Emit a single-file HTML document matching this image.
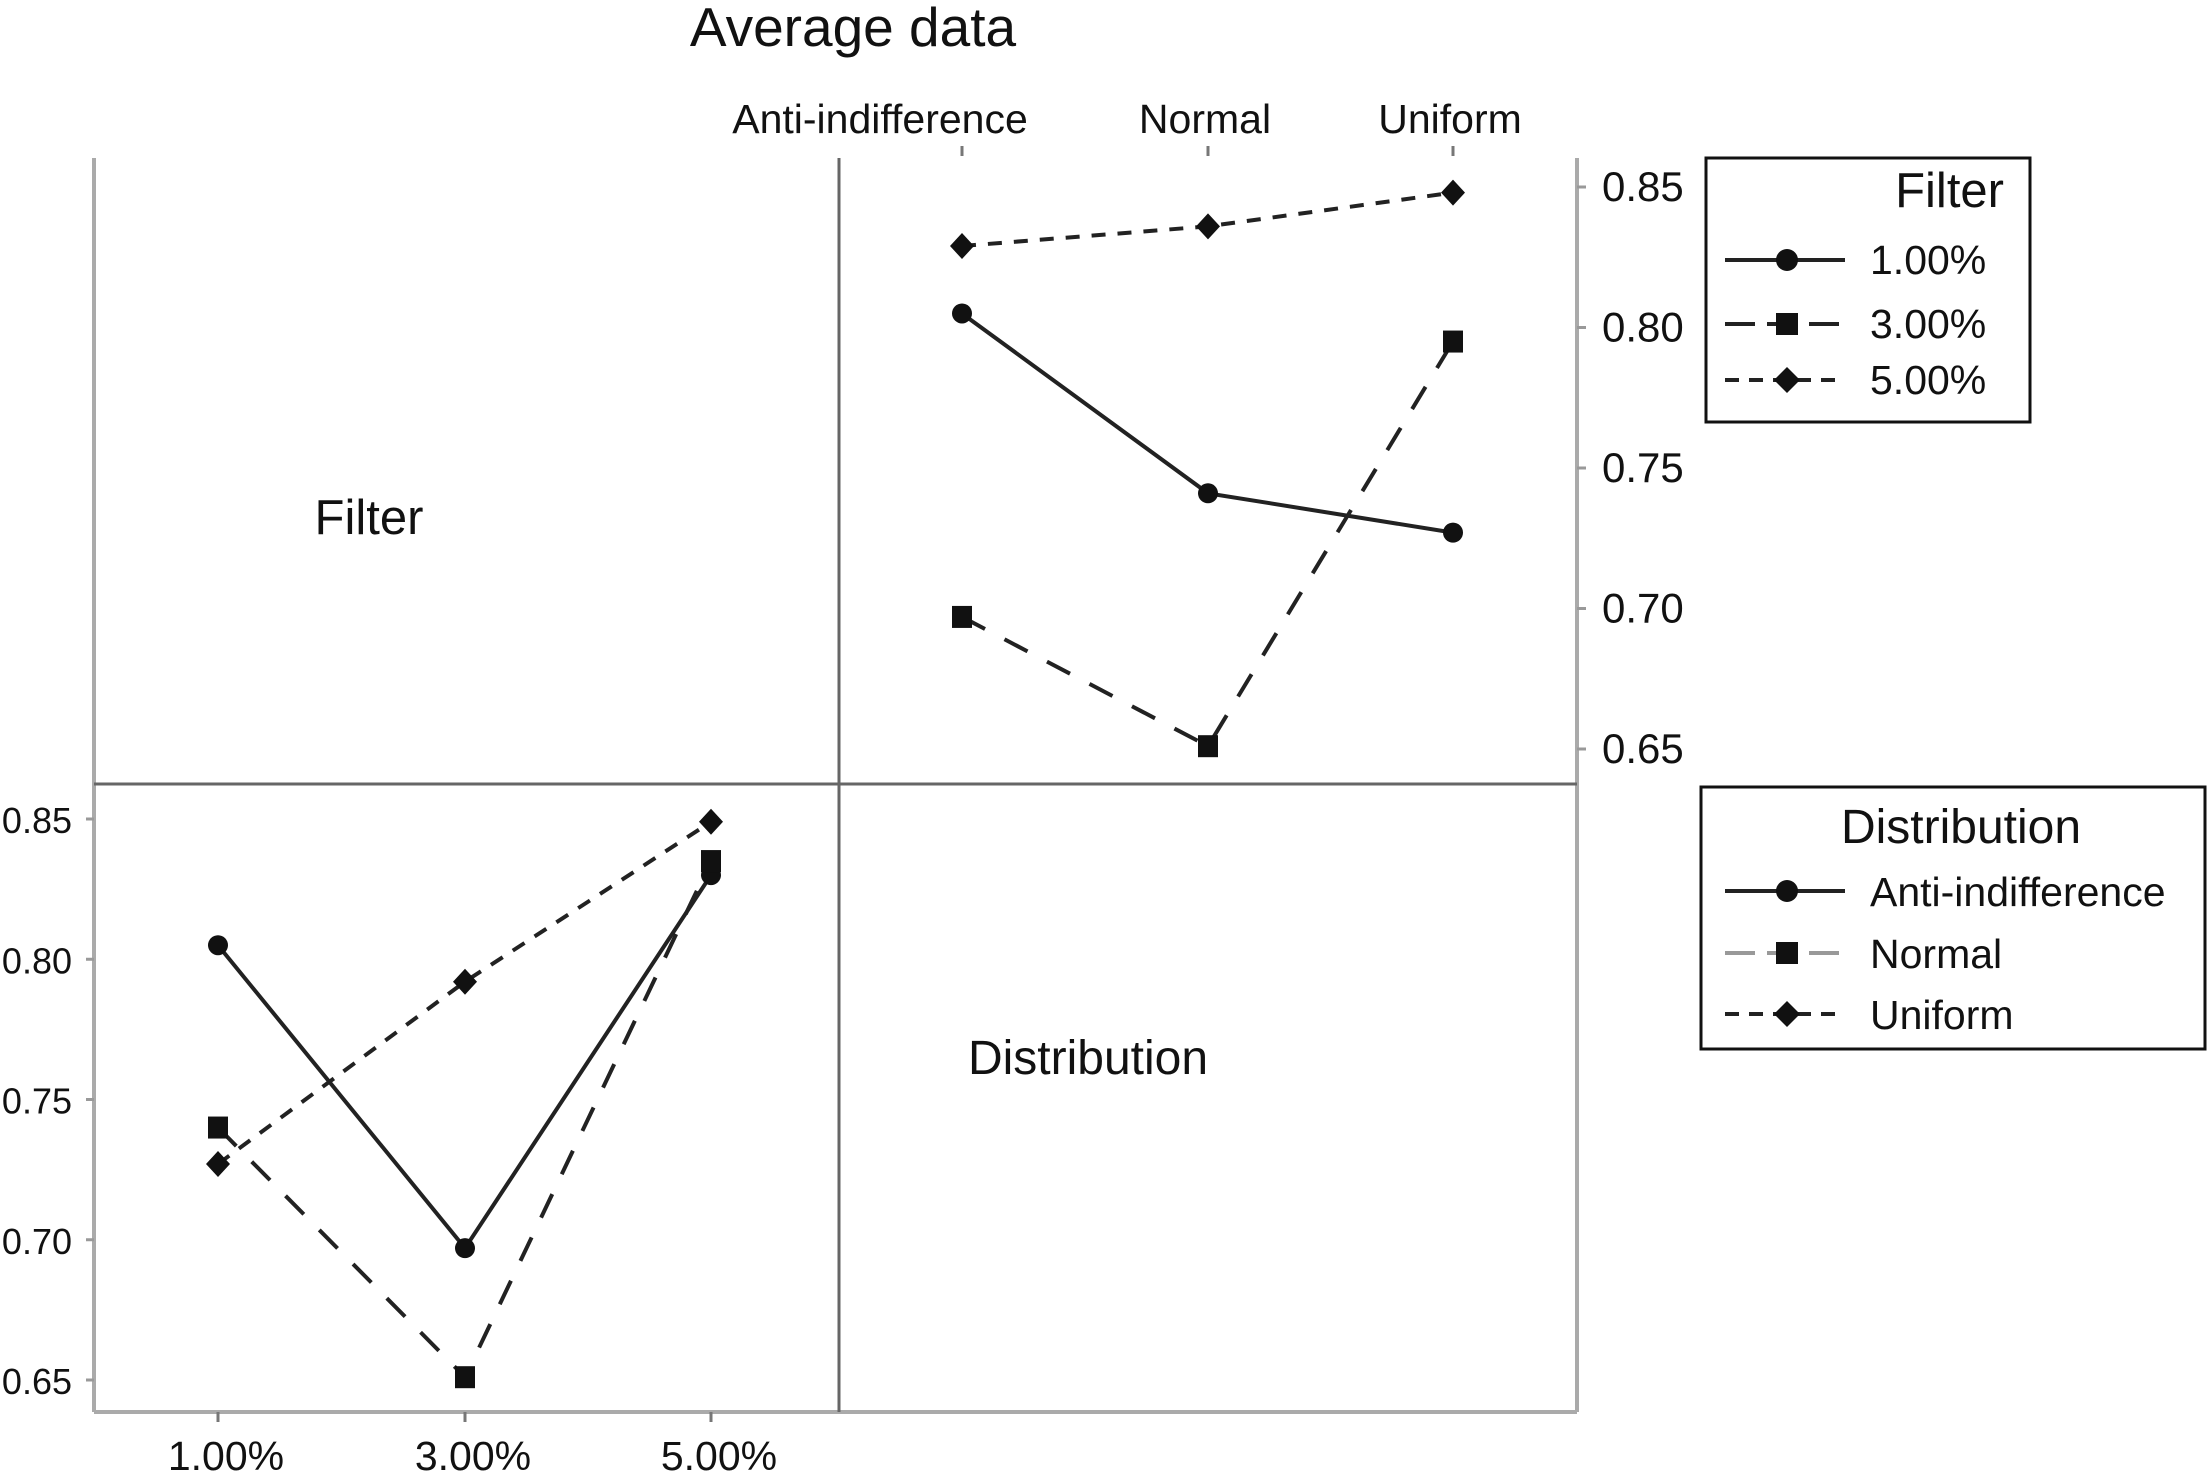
<!DOCTYPE html>
<html><head><meta charset="utf-8"><style>
html,body{margin:0;padding:0;background:#fff;}
svg{display:block;font-family:"Liberation Sans",sans-serif;}
</style></head><body>
<svg id="chart" width="2208" height="1478" viewBox="0 0 2208 1478">
<text x="853" y="46" font-size="55" text-anchor="middle" fill="#111">Average data</text>
<g fill="none">
<line x1="94" y1="158" x2="94" y2="1412" stroke="#aaa" stroke-width="4"/>
<line x1="1577" y1="158" x2="1577" y2="1412" stroke="#aaa" stroke-width="4"/>
<line x1="94" y1="1412" x2="1577" y2="1412" stroke="#aaa" stroke-width="4"/>
<line x1="94" y1="784" x2="1577" y2="784" stroke="#666" stroke-width="3"/>
<line x1="839" y1="158" x2="839" y2="1412" stroke="#666" stroke-width="3"/>
</g>
<text x="369" y="534" font-size="49" text-anchor="middle" fill="#111">Filter</text>
<text x="1088" y="1074" font-size="48" text-anchor="middle" fill="#111">Distribution</text>
<g id="tr"></g>
<g id="bl"></g>
<g>
<rect x="1706" y="158" width="324" height="264" fill="#fff" stroke="#111" stroke-width="3"/>
<text x="2004" y="207" font-size="49" text-anchor="end" fill="#111">Filter</text>
<line x1="1725" y1="260" x2="1845" y2="260" stroke="#222" stroke-width="4"/>
<circle cx="1787" cy="260" r="11" fill="#111"/>
<text x="1870" y="274" font-size="41" fill="#111">1.00%</text>
<line x1="1725" y1="324" x2="1845" y2="324" stroke="#222" stroke-width="4" stroke-dasharray="30,12"/>
<rect x="1776" y="313" width="22" height="22" fill="#111"/>
<text x="1870" y="338" font-size="41" fill="#111">3.00%</text>
<line x1="1725" y1="380" x2="1845" y2="380" stroke="#222" stroke-width="4" stroke-dasharray="14,10"/>
<path d="M1787 367 L1800 380 L1787 393 L1774 380 Z" fill="#111"/>
<text x="1870" y="394" font-size="41" fill="#111">5.00%</text>
</g>
<g>
<rect x="1701" y="787" width="504" height="262" fill="#fff" stroke="#111" stroke-width="3"/>
<text x="1961" y="843" font-size="48" text-anchor="middle" fill="#111">Distribution</text>
<line x1="1725" y1="891" x2="1845" y2="891" stroke="#222" stroke-width="4"/>
<circle cx="1787" cy="891" r="11" fill="#111"/>
<text x="1870" y="906" font-size="41" fill="#111">Anti-indifference</text>
<line x1="1725" y1="953" x2="1845" y2="953" stroke="#999" stroke-width="4" stroke-dasharray="30,12"/>
<rect x="1776" y="942" width="22" height="22" fill="#111"/>
<text x="1870" y="968" font-size="41" fill="#111">Normal</text>
<line x1="1725" y1="1014" x2="1845" y2="1014" stroke="#222" stroke-width="4" stroke-dasharray="14,10"/>
<path d="M1787 1001 L1800 1014 L1787 1027 L1774 1014 Z" fill="#111"/>
<text x="1870" y="1029" font-size="41" fill="#111">Uniform</text>
</g>
</svg>
<script>
const ticks = [0.65, 0.70, 0.75, 0.80, 0.85];
const distCats = ["Anti-indifference", "Normal", "Uniform"];
const filterCats = ["1.00%", "3.00%", "5.00%"];
// top-right: series by filter level, x = distribution
const f1 = [0.805, 0.741, 0.727];
const f3 = [0.697, 0.651, 0.795];
const f5 = [0.829, 0.836, 0.848];
// bottom-left: series by distribution, x = filter level
const dAnti = [0.805, 0.697, 0.830];
const dNormal = [0.740, 0.651, 0.835];
const dUniform = [0.727, 0.792, 0.849];

const NS = "http://www.w3.org/2000/svg";
function mk(parent, tag, attrs, txt){
  const e = document.createElementNS(NS, tag);
  for (const k in attrs) e.setAttribute(k, attrs[k]);
  if (txt !== undefined) e.textContent = txt;
  parent.appendChild(e); return e;
}
function marker(g, kind, x, y){
  let m;
  if (kind === "circle") m = mk(g, "circle", {cx:x, cy:y, r:10, fill:"#111"});
  else if (kind === "square") m = mk(g, "rect", {x:x-10, y:y-11, width:20, height:22, fill:"#111"});
  else m = mk(g, "path", {d:`M${x} ${y-13} L${x+12} ${y} L${x} ${y+13} L${x-12} ${y} Z`, fill:"#111"});
  
  
}
function panel(g, xs, yFn, series, cats, catY, catTick, axis, catDx){
  ticks.forEach(t=>{
    const y = yFn(t);
    const tk = mk(g, "line", {x1:axis.tx1, y1:y, x2:axis.tx2, y2:y, stroke:"#999", "stroke-width":3});
    
    
    const lb = mk(g, "text", {x:axis.lx, y:y+14, "font-size":axis.fs, "text-anchor":axis.anchor, fill:"#111"}, t.toFixed(2));
    
    
  });
  cats.forEach((c,i)=>{
    const tk = mk(g, "line", {x1:xs[i], y1:catTick[0], x2:xs[i], y2:catTick[1], stroke:"#777", "stroke-width":3});
    
    
    const lb = mk(g, "text", {x:xs[i]+catDx[i], y:catY, "font-size":41, "text-anchor":"middle", fill:"#111"}, c);
    
    
  });
  series.forEach(s=>{
    const pts = s.vals.map((v,i)=>[xs[i], yFn(v)]);
    const pl = mk(g, "polyline", {points:pts.map(p=>p.join(",")).join(" "), fill:"none", stroke:s.color, "stroke-width":4, "stroke-dasharray":s.dash});
    
    
    pts.forEach(p=>marker(g, s.kind, p[0], p[1]));
  });
}
const tr = document.getElementById("tr");
const yTR = v => 749 + (v - 0.65) / 0.20 * (187 - 749);
panel(tr, [962, 1208, 1453], yTR, [
  {name:"line-filter-1", vals:f1, kind:"circle", dash:"none", color:"#222"},
  {name:"line-filter-3", vals:f3, kind:"square", dash:"26,22", color:"#222"},
  {name:"line-filter-5", vals:f5, kind:"diamond", dash:"14,12", color:"#222"}
], distCats, 133, [146,156], {tx1:1577, tx2:1586, lx:1602, anchor:"start", fs:42}, [-82, -3, -3]);
const bl = document.getElementById("bl");
const yBL = v => 1380 + (v - 0.65) / 0.20 * (819 - 1380);
panel(bl, [218, 465, 711], yBL, [
  {name:"line-anti-indifference", vals:dAnti, kind:"circle", dash:"none", color:"#222"},
  {name:"line-normal", vals:dNormal, kind:"square", dash:"26,22", color:"#222"},
  {name:"line-uniform", vals:dUniform, kind:"diamond", dash:"14,12", color:"#222"}
], filterCats, 1470, [1412,1422], {tx1:86, tx2:94, lx:72, anchor:"end", fs:36}, [8, 8, 8]);
</script>
</body></html>
